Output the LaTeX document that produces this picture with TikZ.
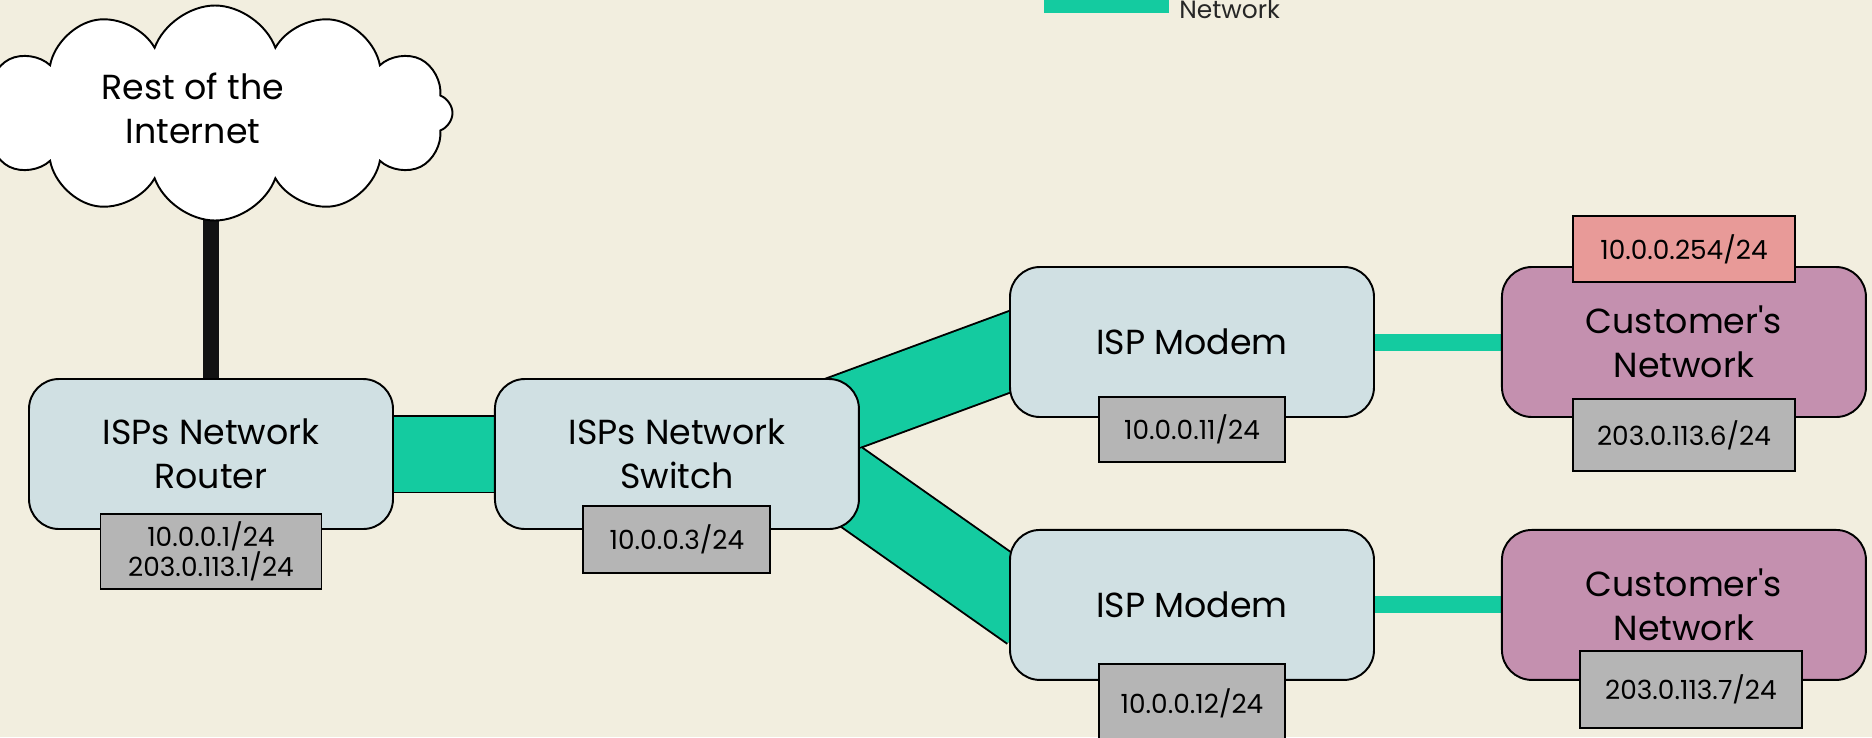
\documentclass[tikz,border=0pt]{standalone}
\usepackage{fontspec}
\setmainfont{Poppins}[Ligatures=TeXOff]
\usetikzlibrary{positioning,calc,backgrounds,shapes.symbols}
\definecolor{paper}{HTML}{F2EEDF}
\definecolor{devblue}{HTML}{D0E0E3}
\definecolor{custmauve}{HTML}{C490AF}
\definecolor{ipgray}{HTML}{B5B5B5}
\definecolor{wanpink}{HTML}{E89A98}
\definecolor{linkgreen}{HTML}{14CBA0}

\begin{document}
\begin{tikzpicture}[
    dev/.style={draw, fill=devblue, line width=1.1pt, rounded corners=0.6cm,
                minimum width=7.28cm, minimum height=3cm,
                font=\fontsize{19.8}{25}\selectfont, align=center},
    cust/.style={dev, fill=custmauve},
    ip/.style={draw, fill=ipgray, line width=1.1pt, minimum height=1.32cm,
               font=\fontsize{15}{17}\selectfont, align=center},
    wan/.style={ip, fill=wanpink},
    trunk/.style={line width=1.1pt, double=linkgreen, double distance=1.5cm,
                  shorten <=-0.5cm, shorten >=-0.5cm},
    drop/.style={line width=0.34cm, linkgreen},
    uplink/.style={line width=0.32cm, black!93}
  ]
  \useasboundingbox (0,0) rectangle (37.44,-14.74);
  \begin{scope}[on background layer]
    \fill[paper] (0,0) rectangle (37.44,-14.74);
  \end{scope}
  \clip (0,0) rectangle (37.44,-14.74);

  \fill[linkgreen] (20.88,0) rectangle (23.38,-0.26);
  \node[anchor=base west, inner sep=0pt, font=\fontsize{14.2}{17}\selectfont,
        text=black!85] (key) at (23.58,-0.37) {Network};

  \node[cloud, cloud puffs=12, cloud puff arc=140, cloud ignores aspect, draw, fill=white,
        line width=1.1pt, minimum width=9.5cm, minimum height=4.3cm] (cl) at (4.3,-2.26) {};
  \node[font=\fontsize{19.8}{25}\selectfont, align=center] (inet) at (3.86,-2.16)
       {Rest of the\\Internet};

  \node[dev] (rt) at (4.22,-9.08) {ISPs Network\\Router};
  \node[dev, right=2cm of rt] (sw) {ISPs Network\\Switch};
  \node[dev] (m1) at (23.84,-6.84) {ISP Modem};
  \node[dev, below=2.22cm of m1] (m2) {ISP Modem};
  \node[cust, right=2.52cm of m1] (c1) {Customer's\\Network};
  \node[cust, right=2.52cm of m2] (c2) {Customer's\\Network};

  \node[ip, minimum width=4.42cm, minimum height=1.5cm, below=-0.34cm of rt] (rtip)
       {10.0.0.1/24\\203.0.113.1/24};
  \node[ip, minimum width=3.74cm, minimum height=1.34cm, below=-0.5cm of sw] (swip) {10.0.0.3/24};
  \node[ip, minimum width=3.72cm, minimum height=1.3cm, below=-0.44cm of m1] (m1ip) {10.0.0.11/24};
  \node[ip, minimum width=3.72cm, minimum height=1.56cm, below=-0.36cm of m2] (m2ip) {10.0.0.12/24};
  \node[wan, minimum width=4.44cm, above=-0.34cm of c1] (c1wan) {10.0.0.254/24};
  \node[ip, minimum width=4.44cm, minimum height=1.44cm, below=-0.4cm of c1] (c1ip) {203.0.113.6/24};
  \node[ip, minimum width=4.44cm, minimum height=1.54cm, below=-0.62cm of c2, xshift=0.14cm] (c2ip)
       {203.0.113.7/24};

  \begin{scope}[on background layer]
    \draw[uplink] (rt.north) -- (rt.north |- cl.center);
    \draw[trunk] (rt) -- (sw);
    \draw[trunk] ($(sw.east)+(0,0.94)$) -- ($(m1.west)+(0,-0.2)$);
    \draw[trunk] ($(sw.east)+(0,-0.78)$) -- ($(m2.west)+(0,0.14)$);
    \draw[drop] (m1) -- (c1);
    \draw[drop] (m2) -- (c2);
  \end{scope}
\end{tikzpicture}
\end{document}
